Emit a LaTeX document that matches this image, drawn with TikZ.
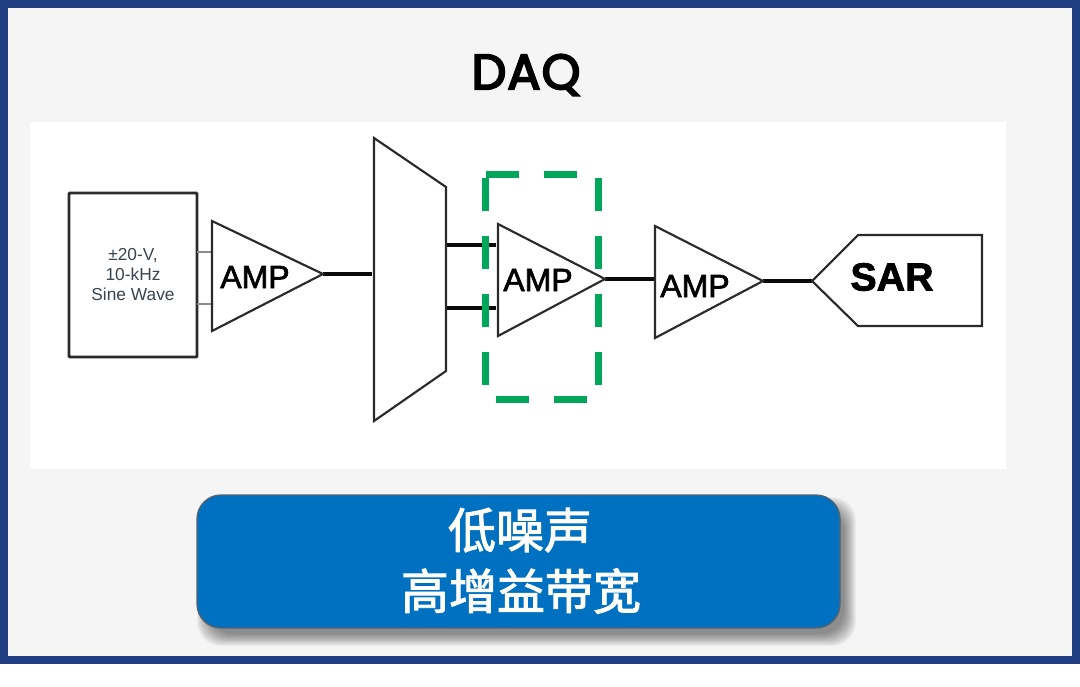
\documentclass[tikz,border=0pt]{standalone}
\usepackage{fontspec}
\setmainfont{Liberation Sans}
\newfontfamily\titlefont[FakeBold=4,LetterSpace=2]{Poppins}
\newfontfamily\ampfont[FakeBold=2]{Liberation Sans}
\newfontfamily\cjkfont[FakeBold=2]{Noto Sans CJK SC}
\usetikzlibrary{calc}
\definecolor{navy}{HTML}{1F3F82}
\definecolor{pagebg}{HTML}{F5F5F5}
\definecolor{dashgreen}{HTML}{00A65A}
\definecolor{btnblue}{HTML}{0070C0}
\definecolor{btnedge}{HTML}{56626E}
\definecolor{wire}{HTML}{0A0A0A}
\definecolor{thinwire}{HTML}{8C8C8C}
\definecolor{outline}{HTML}{2A2A2A}
\definecolor{srctext}{HTML}{3A4450}
\tikzset{
  x=0.75pt,y=-0.75pt,
  shapeline/.style={draw=outline,line width=1.6pt,line join=miter,fill=white},
  wireline/.style={draw=wire,line width=2.3pt},
  greyline/.style={draw=thinwire,line width=1.2pt},
  amplabel/.style={inner sep=0pt,font=\ampfont\fontsize{24}{24}\selectfont,text=black},
  highlight/.style={draw=dashgreen,line width=5.25pt,dash pattern=on 24.75pt off 18.75pt},
  button/.style={rounded corners=18pt,fill=btnblue,draw=btnedge,line width=1pt},
}
\begin{document}
\begin{tikzpicture}
\useasboundingbox (0,0) rectangle (1080,686);
\fill[white] (0,0) rectangle (1080,686);
\fill[navy] (0,0) rectangle (1080,664);
\fill[pagebg] (8,8) rectangle (1072,656);
\fill[white] (30,122) rectangle (1006,469);
\node[inner sep=0pt,font=\titlefont\fontsize{37}{37}\selectfont,text=black] (title) at (526,75) {DAQ};

% source
\node[draw=outline,line width=2.2pt,fill=white,minimum width=96pt,minimum height=123pt,inner sep=0pt,align=center,rounded corners=0.8pt,font=\fontsize{13}{15}\selectfont,text=srctext] (src) at (133,275) {±20-V,\\10-kHz\\Sine Wave};

% coordinates of the shapes
\coordinate (a1t) at (212,221); \coordinate (a1b) at (212,331); \coordinate (a1o) at (323,274);
\coordinate (a1i1) at (212,252); \coordinate (a1i2) at (212,304);
\coordinate (s1) at (197,252); \coordinate (s2) at (197,304);
\coordinate (m1) at (374,138); \coordinate (m2) at (446,187); \coordinate (m3) at (446,371); \coordinate (m4) at (374,421);
\coordinate (mi) at (372,274); \coordinate (mo1) at (446,245); \coordinate (mo2) at (446,308);
\coordinate (a2t) at (498,224); \coordinate (a2b) at (498,336); \coordinate (a2o) at (605,279);
\coordinate (a2i1) at (496,245); \coordinate (a2i2) at (496,308);
\coordinate (a3t) at (655,226); \coordinate (a3b) at (655,338); \coordinate (a3o) at (763,281);
\coordinate (a3i) at (655,279);
\coordinate (st) at (858,235); \coordinate (sr) at (982,235); \coordinate (sq) at (982,326); \coordinate (sb) at (858,326); \coordinate (sp) at (812,281);

% connectors
\draw[greyline] (s1) -- (a1i1);
\draw[greyline] (s2) -- (a1i2);
\draw[wireline] (a1o) -- (mi);
\draw[wireline] (mo1) -- (a2i1);
\draw[wireline] (mo2) -- (a2i2);
\draw[wireline] (a2o) -- (a3i);
\draw[wireline] (a3o) -- (sp);

% shapes
\draw[shapeline] (a1t) -- (a1o) -- (a1b) -- cycle;
\draw[shapeline] (m1) -- (m2) -- (m3) -- (m4) -- cycle;
\draw[shapeline] (a2t) -- (a2o) -- (a2b) -- cycle;
\draw[shapeline] (a3t) -- (a3o) -- (a3b) -- cycle;
\draw[shapeline] (sp) -- (st) -- (sr) -- (sq) -- (sb) -- cycle;

% labels
\node[amplabel] (amp1) at (255,277) {AMP};
\node[amplabel] (amp2) at (538,280) {AMP};
\node[amplabel] (amp3) at (695,286) {AMP};
\node[inner sep=0pt,font=\ampfont\bfseries\fontsize{29.5}{30}\selectfont,text=black] (sar) at (892,277) {SAR};

% dashed highlight
\draw[highlight] (486,174) -- (598,174) -- (598,399) -- (485,399) -- (485,178);

% button
\foreach \s in {8,7,6,5,4,3,2,1,0,-1,-2,-3,-4}{
  \fill[black,opacity=0.04,rounded corners=18pt] ($(197,495)+(8-1*\s,10-1*\s)$) rectangle ($(840,628)+(8+\s,10+\s)$);
}
\draw[button] (197,495) rectangle (840,628);
\node[inner sep=0pt,text=white,font=\cjkfont\fontsize{36}{36}\selectfont] (l1) at (520,530) {低噪声};
\node[inner sep=0pt,text=white,font=\cjkfont\fontsize{36}{36}\selectfont] (l2) at (521,591) {高增益带宽};
\end{tikzpicture}
\end{document}
